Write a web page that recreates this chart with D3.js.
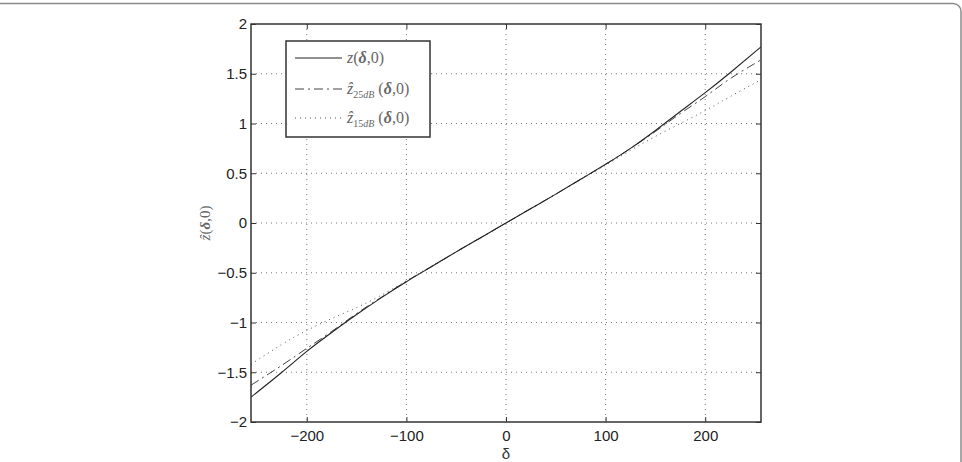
<!DOCTYPE html>
<html><head><meta charset="utf-8">
<script src="https://cdn.jsdelivr.net/npm/d3@7"></script>
<style>body{margin:0;background:#fff}svg{display:block}</style>
</head><body>
<script>
const deltas = [-256,-225,-200,-175,-150,-125,-100,-75,-50,-25,0,25,50,75,100,125,150,175,200,225,256];
const zTrue  = [-1.75,-1.50,-1.29,-1.10,-0.92,-0.75,-0.59,-0.44,-0.29,-0.145,0,0.145,0.29,0.44,0.59,0.75,0.93,1.12,1.31,1.51,1.77];
const z25dB  = [-1.63,-1.43,-1.26,-1.09,-0.91,-0.745,-0.585,-0.44,-0.29,-0.145,0,0.145,0.29,0.44,0.59,0.75,0.92,1.10,1.27,1.45,1.64];
const z15dB  = [-1.42,-1.22,-1.08,-0.96,-0.85,-0.725,-0.58,-0.435,-0.29,-0.145,0,0.145,0.29,0.435,0.58,0.73,0.87,1.00,1.13,1.27,1.44];
const xTicks = [-200,-100,0,100,200];
const yTicks = [-2,-1.5,-1,-0.5,0,0.5,1,1.5,2];

const W=962,H=462;
const svg=d3.select("body").append("svg").attr("width",W).attr("height",H);
// outer frame
svg.append("rect").attr("x",-20).attr("y",3.5).attr("width",981).attr("height",490)
  .attr("rx",8).attr("fill","none").attr("stroke","#8a8a8a").attr("stroke-width",1.5);

const L=251,R=761,T=24,B=422;
const x=d3.scaleLinear().domain([-256,256]).range([L,R]);
const y=d3.scaleLinear().domain([-2,2]).range([B,T]);
const ink="#333";

// grid
const g=svg.append("g");
g.selectAll(".gx").data(xTicks).join("line")
  .attr("x1",d=>x(d)).attr("x2",d=>x(d)).attr("y1",T).attr("y2",B)
  .attr("stroke","#777").attr("stroke-width",1).attr("stroke-dasharray","1,4");
g.selectAll(".gy").data(yTicks.filter(d=>d>-2&&d<2)).join("line")
  .attr("y1",d=>y(d)).attr("y2",d=>y(d)).attr("x1",L).attr("x2",R)
  .attr("stroke","#777").attr("stroke-width",1).attr("stroke-dasharray","1,4");

// curves
const line=d3.line().x((d,i)=>x(deltas[i])).y(d=>y(d)).curve(d3.curveNatural);
svg.append("clipPath").attr("id","c").append("rect").attr("x",L).attr("y",T).attr("width",R-L).attr("height",B-T);
const pg=svg.append("g").attr("clip-path","url(#c)");
pg.append("path").attr("d",line(z15dB)).attr("fill","none").attr("stroke","#555").attr("stroke-width",1).attr("stroke-dasharray","1,4");
pg.append("path").attr("d",line(z25dB)).attr("fill","none").attr("stroke","#444").attr("stroke-width",1).attr("stroke-dasharray","9,4,2,4");
pg.append("path").attr("d",line(zTrue)).attr("fill","none").attr("stroke","#222").attr("stroke-width",1.1);

// axes with inward ticks
const fmt=d=>d<0?"−"+Math.abs(d):d;
const ax=svg.append("g").attr("transform",`translate(0,${B})`).call(d3.axisBottom(x).tickValues(xTicks).tickSizeInner(-5).tickSizeOuter(0).tickPadding(8).tickFormat(fmt));
const ay=svg.append("g").attr("transform",`translate(${L},0)`).call(d3.axisLeft(y).tickValues(yTicks).tickSizeInner(-5).tickSizeOuter(0).tickPadding(4).tickFormat(fmt));
const at=svg.append("g").attr("transform",`translate(0,${T})`).call(d3.axisTop(x).tickValues(xTicks).tickSizeInner(-5).tickSizeOuter(0).tickFormat(""));
const ar=svg.append("g").attr("transform",`translate(${R},0)`).call(d3.axisRight(y).tickValues(yTicks).tickSizeInner(-5).tickSizeOuter(0).tickFormat(""));
[ax,ay,at,ar].forEach(a=>{a.select(".domain").remove();a.selectAll("line").attr("stroke",ink);
  a.selectAll("text").attr("font-family","Liberation Sans, Arial, sans-serif").attr("font-size",15).attr("fill","#222");});
svg.append("rect").attr("x",L).attr("y",T).attr("width",R-L).attr("height",B-T).attr("fill","none").attr("stroke",ink).attr("stroke-width",1.5);

// axis labels
svg.append("text").attr("x",x(0)).attr("y",459).attr("text-anchor","middle")
  .attr("font-family","Liberation Sans, Arial, sans-serif").attr("font-size",15).attr("fill","#333").text("δ");
svg.append("text").attr("transform",`translate(210,${y(0)}) rotate(-90)`).attr("text-anchor","middle")
  .attr("font-family","Liberation Serif, DejaVu Serif, serif").attr("font-size",15).attr("fill","#666")
  .html('<tspan font-style="italic">ẑ</tspan>(<tspan font-weight="bold" font-style="italic">δ</tspan>,0)');

// legend
const lg=svg.append("g");
lg.append("rect").attr("x",286).attr("y",41).attr("width",144).attr("height",96).attr("fill","#fff").attr("stroke",ink).attr("stroke-width",1.5);
const entries=[
  {dash:null,col:"#222",yy:58,sub:null},
  {dash:"9,4,2,4",col:"#444",yy:89,sub:"25dB"},
  {dash:"1,4",col:"#555",yy:118,sub:"15dB"}];
entries.forEach(e=>{
  lg.append("line").attr("x1",295).attr("x2",342).attr("y1",e.yy).attr("y2",e.yy)
    .attr("stroke",e.col).attr("stroke-width",1).attr("stroke-dasharray",e.dash);
  const t=lg.append("text").attr("x",347).attr("y",e.yy+5).attr("font-family","Liberation Serif, DejaVu Serif, serif")
    .attr("font-size",16).attr("fill","#666");
  if(e.sub===null){
    t.html('<tspan font-style="italic">z</tspan>(<tspan font-weight="bold" font-style="italic">δ</tspan>,0)');
  } else {
    t.html(`<tspan font-style="italic">ẑ</tspan><tspan font-size="10" dy="4">${e.sub.slice(0,2)}</tspan><tspan font-size="10" font-style="italic">${e.sub.slice(2)}</tspan><tspan dy="-4"> (</tspan><tspan font-weight="bold" font-style="italic">δ</tspan>,0)`);
  }
});
</script>
</body></html>
